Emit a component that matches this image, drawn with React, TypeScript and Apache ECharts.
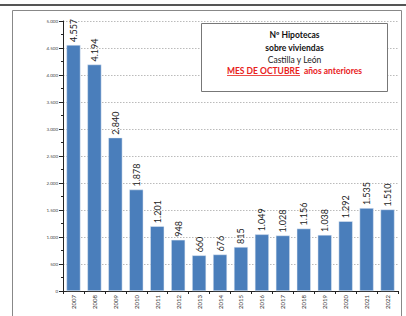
import React, { useEffect, useRef } from "react";
import * as echarts from "echarts";

const years = ["2007","2008","2009","2010","2011","2012","2013","2014","2015","2016","2017","2018","2019","2020","2021","2022"];
const hipotecas = [4557, 4194, 2840, 1878, 1201, 948, 660, 676, 815, 1049, 1028, 1156, 1038, 1292, 1535, 1510];
const titleLines = ["Nº Hipotecas", "sobre viviendas", "Castilla y León"];
const subtitleRed = "MES DE OCTUBRE  años anteriores";

const fmt = (v: number) => {
  const s = String(Math.round(v));
  return s.replace(/\B(?=(\d{3})+(?!\d))/g, ".");
};

export default function App() {
  const ref = useRef<HTMLDivElement>(null);
  useEffect(() => {
    const chart = echarts.init(ref.current!, null, { renderer: "svg" });
    const font = "Lato, 'Open Sans', sans-serif";
    chart.setOption({
      animation: false,
      backgroundColor: "#ffffff",
      grid: { left: 63, right: 8, top: 21, bottom: 25 },
      xAxis: {
        type: "category",
        data: years,
        axisLine: { show: true, lineStyle: { color: "#222", width: 1 } },
        axisTick: { show: true, length: 3, interval: 0, lineStyle: { color: "#222" } },
        axisLabel: { rotate: 90, fontSize: 6, color: "#333", fontFamily: font, margin: 4, interval: 0 },
      },
      yAxis: {
        type: "value",
        min: 0,
        max: 5000,
        interval: 500,
        axisLine: { show: true, lineStyle: { color: "#222", width: 1 } },
        axisTick: { show: true, length: 4, lineStyle: { color: "#222" } },
        minorTick: { show: true, splitNumber: 2, length: 2, lineStyle: { color: "#222" } },
        axisLabel: { fontSize: 4.5, color: "#444", fontFamily: font, margin: 5, formatter: (v: number) => fmt(v) },
        splitLine: { show: true, lineStyle: { color: "#bbb", type: [1.5, 1.5], width: 1 } },
      },
      series: [
        {
          type: "bar",
          data: hipotecas,
          barWidth: "67%",
          itemStyle: { color: "#4a7ebb", borderColor: "#e8eef6", borderWidth: 0.5 },
          label: {
            show: true,
            position: "top",
            rotate: 90,
            align: "left",
            verticalAlign: "middle",
            distance: 3,
            fontSize: 9,
            color: "#222",
            fontFamily: font,
            formatter: (p: any) => fmt(p.value),
          },
        },
      ],
      graphic: [
        { type: "line", shape: { x1: 0, y1: 5, x2: 406, y2: 5 }, style: { stroke: "#555", lineWidth: 2 }, z: 100 },
        { type: "rect", shape: { x: 12.5, y: 10.5, width: 389, height: 320 }, style: { fill: "none", stroke: "#888", lineWidth: 1 }, z: 100 },
        { type: "rect", shape: { x: 201.5, y: 23.5, width: 186, height: 68 }, style: { fill: "#fff", stroke: "#777", lineWidth: 1 }, z: 100 },
        { type: "text", x: 294.5, y: 35, style: { text: titleLines[0], fontSize: 8.5, fontWeight: "bold", fill: "#111", align: "center", verticalAlign: "middle", fontFamily: font }, z: 101 },
        { type: "text", x: 294.5, y: 47.5, style: { text: titleLines[1], fontSize: 8.5, fontWeight: "bold", fill: "#111", align: "center", verticalAlign: "middle", fontFamily: font }, z: 101 },
        { type: "text", x: 294.5, y: 59.5, style: { text: titleLines[2], fontSize: 8.5, fill: "#222", align: "center", verticalAlign: "middle", fontFamily: font }, z: 101 },
        { type: "text", x: 294.5, y: 71, style: { text: subtitleRed, fontSize: 8.5, fontWeight: "bold", fill: "#e8201a", align: "center", verticalAlign: "middle", fontFamily: font }, z: 101 },
        { type: "line", shape: { x1: 227, y1: 75.5, x2: 300, y2: 75.5 }, style: { stroke: "#e8201a", lineWidth: 0.8 }, z: 101 },
      ],
    });
    return () => chart.dispose();
  }, []);
  return <div ref={ref} style={{ position: "fixed", left: 0, top: 0, width: 406, height: 316 }} />;
}
